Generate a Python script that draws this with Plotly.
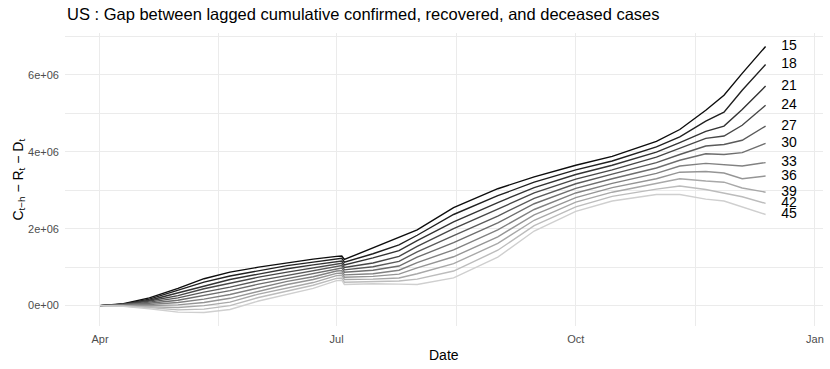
import plotly.graph_objects as go

dates = ["2020-04-01", "2020-04-10", "2020-04-20", "2020-05-01", "2020-05-11", "2020-05-21",
         "2020-06-01", "2020-06-12", "2020-06-22", "2020-07-01", "2020-07-03", "2020-07-04",
         "2020-07-15", "2020-07-25", "2020-08-01", "2020-08-15", "2020-09-01", "2020-09-15",
         "2020-10-01", "2020-10-15", "2020-11-01", "2020-11-10", "2020-11-20", "2020-11-27",
         "2020-12-04", "2020-12-13"]

lags = ["15", "18", "21", "24", "27", "30", "33", "36", "39", "42", "45"]

# values in millions
s15 = [0, 0.05, 0.20, 0.45, 0.70, 0.87, 1.00, 1.12, 1.21, 1.28, 1.29, 1.20, 1.50, 1.76, 1.97, 2.55, 3.04, 3.35, 3.65, 3.88, 4.27, 4.58, 5.08, 5.47, 6.04, 6.74]
s18 = [0, 0.04, 0.17, 0.39, 0.61, 0.77, 0.91, 1.04, 1.13, 1.22, 1.23, 1.13, 1.35, 1.58, 1.83, 2.37, 2.86, 3.21, 3.53, 3.76, 4.13, 4.39, 4.80, 5.03, 5.60, 6.27]
s21 = [0, 0.04, 0.14, 0.33, 0.52, 0.68, 0.82, 0.96, 1.06, 1.15, 1.16, 1.06, 1.24, 1.43, 1.69, 2.18, 2.68, 3.07, 3.41, 3.65, 3.99, 4.24, 4.53, 4.67, 5.10, 5.71]
s24 = [0, 0.03, 0.12, 0.26, 0.44, 0.58, 0.74, 0.87, 0.98, 1.09, 1.10, 0.99, 1.11, 1.28, 1.54, 2.00, 2.51, 2.93, 3.29, 3.53, 3.86, 4.09, 4.35, 4.41, 4.69, 5.21]
s27 = [0, 0.02, 0.09, 0.20, 0.35, 0.48, 0.65, 0.79, 0.90, 1.03, 1.04, 0.93, 1.01, 1.15, 1.40, 1.82, 2.33, 2.79, 3.17, 3.42, 3.72, 3.93, 4.15, 4.19, 4.30, 4.67]
s30 = [0, 0.02, 0.06, 0.14, 0.26, 0.39, 0.56, 0.71, 0.83, 0.97, 0.98, 0.87, 0.92, 1.03, 1.26, 1.64, 2.15, 2.65, 3.05, 3.30, 3.58, 3.78, 3.95, 3.93, 3.98, 4.22]
s33 = [0, 0.01, 0.03, 0.08, 0.17, 0.29, 0.47, 0.63, 0.75, 0.90, 0.91, 0.80, 0.83, 0.92, 1.12, 1.45, 1.97, 2.50, 2.93, 3.18, 3.44, 3.63, 3.70, 3.67, 3.63, 3.72]
s36 = [0, 0.00, 0.00, 0.02, 0.08, 0.19, 0.38, 0.55, 0.68, 0.84, 0.85, 0.74, 0.76, 0.82, 0.98, 1.27, 1.79, 2.36, 2.81, 3.07, 3.30, 3.47, 3.49, 3.45, 3.30, 3.37]
s39 = [0, -0.01, -0.02, -0.05, 0.00, 0.09, 0.30, 0.46, 0.60, 0.78, 0.79, 0.68, 0.69, 0.72, 0.83, 1.09, 1.62, 2.22, 2.69, 2.95, 3.17, 3.30, 3.24, 3.21, 3.06, 2.95]
s42 = [0, -0.01, -0.05, -0.11, -0.09, 0.00, 0.21, 0.38, 0.53, 0.71, 0.72, 0.61, 0.63, 0.64, 0.69, 0.90, 1.44, 2.08, 2.57, 2.84, 3.03, 3.11, 3.02, 2.93, 2.83, 2.66]
s45 = [0, -0.02, -0.08, -0.17, -0.18, -0.10, 0.12, 0.30, 0.45, 0.65, 0.66, 0.55, 0.57, 0.56, 0.55, 0.72, 1.26, 1.94, 2.45, 2.72, 2.89, 2.89, 2.77, 2.72, 2.57, 2.37]

series = [s15, s18, s21, s24, s27, s30, s33, s36, s39, s42, s45]
label_date = "2020-12-22"

x_tickvals = ["2020-04-01", "2020-07-01", "2020-10-01", "2021-01-01"]
x_ticktext = ["Apr", "Jul", "Oct", "Jan"]
x_minorvals = ["2020-05-16 12:00", "2020-08-16", "2020-11-16"]
y_tickvals = [0, 2e6, 4e6, 6e6]
y_ticktext = ["0e+00", "2e+06", "4e+06", "6e+06"]

colors = ["#0d0d0d", "#202020", "#333333", "#474747", "#5a5a5a", "#6e6e6e",
          "#818181", "#959595", "#a8a8a8", "#bcbcbc", "#cfcfcf"]

FONT = "Liberation Sans, Arial, sans-serif"

fig = go.Figure()
for lag, vals, col in zip(lags, series, colors):
    fig.add_trace(go.Scatter(x=dates, y=[v * 1e6 for v in vals], mode="lines",
                             line=dict(color=col, width=1.4), name=lag, showlegend=False,
                             hoverinfo="skip"))

fig.add_trace(go.Scatter(x=[label_date] * len(lags), y=[s[-1] * 1e6 for s in series],
                         mode="text", text=lags, textposition="middle center",
                         textfont=dict(family=FONT, size=14, color="#000000"),
                         showlegend=False, hoverinfo="skip"))

grid = "#EBEBEB"
fig.update_layout(
    width=830, height=369,
    margin=dict(l=65, r=7, t=33, b=43),
    paper_bgcolor="white", plot_bgcolor="white",
    font=dict(family=FONT, color="#000000"),
    title=dict(text="US : Gap between lagged cumulative confirmed, recovered, and deceased cases",
               x=67 / 830, xref="container", xanchor="left",
               y=1 - 14 / 369, yref="container", yanchor="middle",
               font=dict(family=FONT, size=16.5, color="#000000")),
    xaxis=dict(type="date", range=["2020-03-18 13:00", "2021-01-04 02:00"],
               tickmode="array", tickvals=x_tickvals, ticktext=x_ticktext,
               showgrid=True, gridcolor=grid, gridwidth=1.1, zeroline=False,
               showline=False, ticks="", ticklabelstandoff=5,
               tickfont=dict(family=FONT, size=11, color="#4D4D4D"),
               minor=dict(tickmode="array", tickvals=x_minorvals, showgrid=True,
                          gridcolor=grid, gridwidth=0.6)),
    yaxis=dict(range=[-0.53e6, 7.09e6],
               tickmode="array", tickvals=y_tickvals, ticktext=y_ticktext,
               showgrid=True, gridcolor=grid, gridwidth=1.1, zeroline=False,
               showline=False, ticks="", ticklabelstandoff=5,
               tickfont=dict(family=FONT, size=11, color="#4D4D4D"),
               minor=dict(dtick=1e6, tick0=0, showgrid=True, gridcolor=grid, gridwidth=0.6)),
    annotations=[
        dict(text="C<sub>t\u2212h</sub> \u2212 R<sub>t</sub> \u2212 D<sub>t</sub>",
             xref="paper", yref="paper", x=-0.062, y=0.5, textangle=-90,
             xanchor="center", yanchor="middle", showarrow=False,
             font=dict(family=FONT, size=14, color="#000000")),
        dict(text="Date", xref="paper", yref="paper", x=0.5, y=-0.099,
             xanchor="center", yanchor="middle", showarrow=False,
             font=dict(family=FONT, size=14, color="#000000")),
    ],
)

fig.write_html("out.html", config={"displayModeBar": False},
               post_script="document.body.style.margin='0';document.body.style.padding='0';")
